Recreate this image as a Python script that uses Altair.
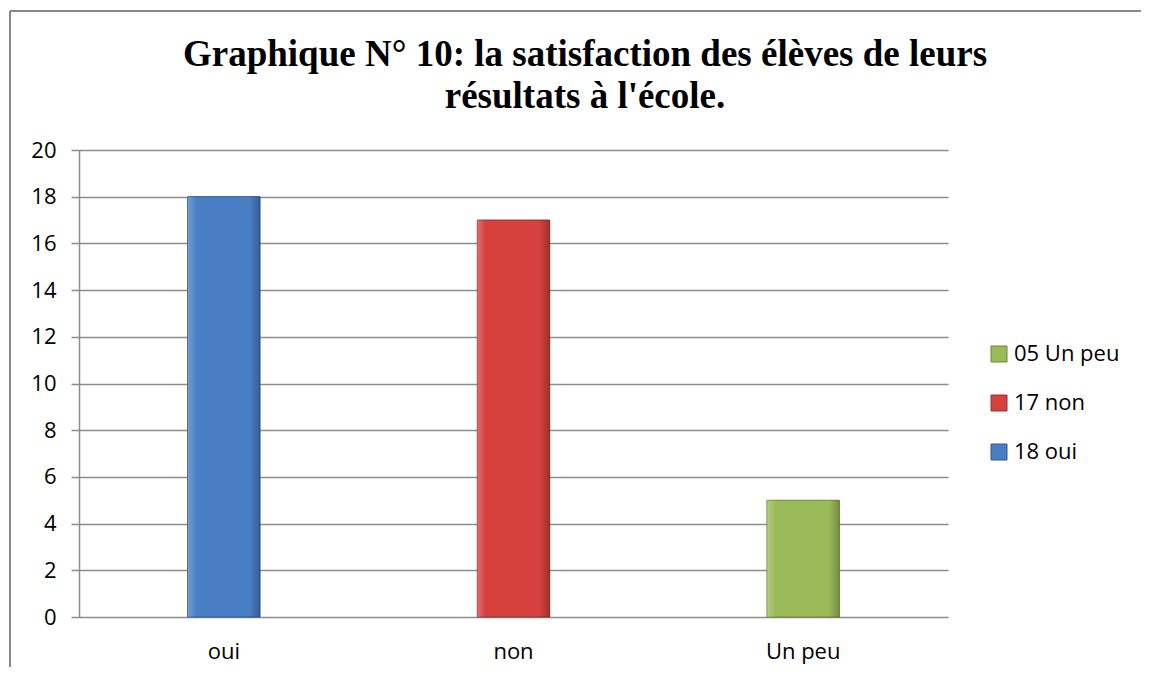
import altair as alt
import pandas as pd

categories = ["oui", "non", "Un peu"]
values = [18, 17, 5]
legend_labels = ["18 oui", "17 non", "05 Un peu"]
legend_order = ["05 Un peu", "17 non", "18 oui"]
colors = ["#9bbb59", "#d6403d", "#4a7ec4"]
strokes = ["#6b8a32", "#953230", "#2f5a8f"]
y_ticks = [0, 2, 4, 6, 8, 10, 12, 14, 16, 18, 20]
title_lines = ["Graphique N° 10: la satisfaction des élèves de leurs",
               "résultats à l'école."]

df = pd.DataFrame({"cat": categories, "val": values, "leg": legend_labels})

W, H = 869, 467
FONT = "Open Sans"

x = alt.X("cat:N", sort=categories,
          scale=alt.Scale(paddingInner=0.75, paddingOuter=0.375),
          axis=alt.Axis(title=None, labelAngle=0, ticks=False, domain=False,
                        labelFont=FONT, labelFontSize=22, labelColor="#000",
                        labelPadding=24))
y = alt.Y("val:Q", scale=alt.Scale(domain=[0, 20], nice=False),
          axis=alt.Axis(title=None, values=y_ticks, grid=True, gridColor="#8c8c8c",
                        gridWidth=1.5, domainColor="#8c8c8c", domainWidth=1.5,
                        tickColor="#8c8c8c", tickSize=8, tickWidth=1.5,
                        labelFont=FONT, labelFontSize=22, labelColor="#000",
                        labelPadding=15))

bars = alt.Chart(df).mark_bar(strokeWidth=1).encode(
    x=x, y=y,
    color=alt.Color("leg:N", sort=legend_order,
                    scale=alt.Scale(domain=legend_order, range=colors),
                    legend=alt.Legend(title=None, orient="none", legendX=909, legendY=193,
                                      symbolType="square", symbolSize=256,
                                      symbolStrokeWidth=1, labelFont=FONT,
                                      labelFontSize=22, labelColor="#000",
                                      rowPadding=27, labelOffset=4)),
    stroke=alt.Stroke("leg:N", scale=alt.Scale(domain=legend_order, range=strokes), legend=None),
)

shade = alt.Chart(df).mark_bar(
    fill=alt.Gradient(gradient="linear", x1=0, x2=1, y1=0, y2=0,
                      stops=[alt.GradientStop(offset=0, color="rgba(255,255,255,0.25)"),
                             alt.GradientStop(offset=0.12, color="rgba(255,255,255,0.0)"),
                             alt.GradientStop(offset=0.85, color="rgba(0,0,0,0.0)"),
                             alt.GradientStop(offset=1, color="rgba(0,0,0,0.25)")])
).encode(x=x, y=y)

t1 = alt.Chart(pd.DataFrame({"t": [title_lines[0]]})).mark_text(
    font="Liberation Serif", fontSize=37, fontWeight="bold", color="#000",
    align="center", baseline="alphabetic").encode(
    text="t:N", x=alt.value(506), y=alt.value(-84))
t2 = alt.Chart(pd.DataFrame({"t": [title_lines[1]]})).mark_text(
    font="Liberation Serif", fontSize=37, fontWeight="bold", color="#000",
    align="center", baseline="alphabetic").encode(
    text="t:N", x=alt.value(506), y=alt.value(-42))

border_left = alt.Chart(df).mark_rule(color="#888888", strokeWidth=2).encode(
    x=alt.value(-69), y=alt.value(-139), y2=alt.value(530))
border_top = alt.Chart(df).mark_rule(color="#888888", strokeWidth=2).encode(
    x=alt.value(-69), x2=alt.value(1080), y=alt.value(-139))

chart = alt.layer(bars, shade, t1, t2, border_left, border_top).properties(
    width=W, height=H,
    autosize=alt.AutoSizeParams(type="none"),
    padding={"left": 71, "top": 142, "right": 193, "bottom": 50},
).configure_view(stroke=None)

chart.save("out.html", embed_options={"renderer": "svg", "actions": False})
